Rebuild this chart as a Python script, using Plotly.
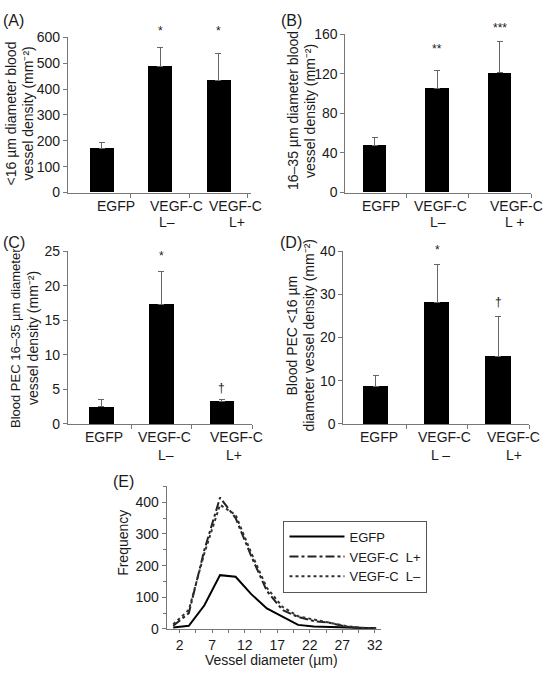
import plotly.graph_objects as go

W, H = 548, 678
FONT = "Liberation Sans, Arial, sans-serif"
TXT = "#1a1a1a"
AX = "#777777"

# ---------------- data ----------------
cat_pos = [0, 1, 2]
line1 = ["EGFP", "VEGF-C", "VEGF-C"]
line2_A = ["", "L–", "L+"]
line2_B = ["", "L–", "L +"]
line2_C = ["", "L–", "L+"]
line2_D = ["", "L –", "L+"]

vals_A = [172, 487, 433]
err_A = [23, 75, 104]
sig_A = ["", "*", "*"]
sig_y_A = [None, 625, 625]

vals_B = [48, 105, 121]
err_B = [8, 18, 32]
sig_B = ["", "**", "***"]
sig_y_B = [None, 145, 166]

vals_C = [2.5, 17.3, 3.3]
err_C = [1.05, 4.8, 0.2]
sig_C = ["", "*", "†"]
sig_y_C = [None, 24.3, 5.2]

vals_D = [8.7, 28.2, 15.7]
err_D = [2.6, 8.8, 9.2]
sig_D = ["", "*", "†"]
sig_y_D = [None, 40.3, 28.2]

diam = [1, 3.4, 5.8, 8.2, 10.6, 13, 15.4, 17.8, 20.2, 22.6, 25, 27.4, 29.8, 32.2]
freq_egfp = [5, 10, 75, 170, 165, 110, 65, 40, 13, 8, 6, 4, 3, 2]
freq_lplus = [10, 50, 250, 415, 350, 230, 120, 60, 38, 25, 20, 8, 3, 1]
freq_lminus = [15, 60, 240, 392, 360, 240, 130, 70, 40, 30, 22, 10, 4, 2]

# ---------------- helpers ----------------
def px_x(a, b):
    return [a / W, b / W]

def px_y(bottom, top):
    return [1 - bottom / H, 1 - top / H]

fig = go.Figure()

panels = [
    ("", vals_A, err_A, line2_A, sig_A, sig_y_A, px_x(68, 251), px_y(189, 30), [-0.58, 2.55], [0, 600], 100, 0.41,
     [14, 16.5, 17], [0, 6.5, 18.5], 29),
    ("2", vals_B, err_B, line2_B, sig_B, sig_y_B, px_x(346, 532), px_y(189, 27), [-0.47, 2.5], [0, 160], 40, 0.38,
     [6.5, 3, 17], [0, 1, 15], 29),
    ("3", vals_C, err_C, line2_C, sig_C, sig_y_C, px_x(68, 252.5), px_y(426, 249), [-0.55, 2.5], [0, 25], 5, 0.41,
     [2.5, 3.5, 15], [0, 5, 12.5], 31),
    ("4", vals_D, err_D, line2_D, sig_D, sig_y_D, px_x(344, 530), px_y(426, 249), [-0.53, 2.5], [0, 40], 10, 0.41,
     [3.5, 7.5, 15.5], [0, 3.5, 15.5], 31),
]

annotations = []
for suf, vals, err, l2, sig, sigy, xd, yd, xr, yr, dt, bw, sh1, sh2, dy2 in panels:
    fig.add_trace(go.Bar(
        x=cat_pos, y=vals, width=bw,
        marker=dict(color="black", line=dict(width=0)),
        error_y=dict(type="data", array=err, arrayminus=[0, 0, 0], symmetric=False,
                     color="#666666", thickness=1, width=3),
        xaxis="x" + suf, yaxis="y" + suf, showlegend=False,
    ))
    fig.layout["xaxis" + suf] = dict(
        domain=xd, range=xr, anchor="y" + suf,
        showticklabels=False, ticks="",
        showline=True, linecolor=AX, linewidth=1, showgrid=False, zeroline=False,
        minor=dict(tickmode="array", tickvals=[0.5, 1.5, 2.5], ticks="outside", ticklen=4, tickcolor=AX),
        fixedrange=True,
    )
    fig.layout["yaxis" + suf] = dict(
        domain=yd, range=yr, anchor="x" + suf,
        tickmode="linear", tick0=0, dtick=dt, ticks="outside", ticklen=4, tickcolor=AX,
        showline=True, linecolor=AX, linewidth=1, showgrid=False, zeroline=False,
        tickfont=dict(size=14, color=TXT, family=FONT), fixedrange=True,
    )
    for i in range(3):
        annotations.append(dict(
            x=cat_pos[i], y=0, xref="x" + suf, yref="y" + suf + " domain", text=line1[i],
            showarrow=False, xshift=sh1[i], yshift=-13, xanchor="center", yanchor="middle",
            font=dict(size=14, color=TXT, family=FONT),
        ))
        if l2[i]:
            annotations.append(dict(
                x=cat_pos[i], y=0, xref="x" + suf, yref="y" + suf + " domain", text=l2[i],
                showarrow=False, xshift=sh2[i], yshift=-dy2, xanchor="center", yanchor="middle",
                font=dict(size=14, color=TXT, family=FONT),
            ))
    for i, s in enumerate(sig):
        if s:
            annotations.append(dict(
                x=cat_pos[i], y=sigy[i] / yr[1], xref="x" + suf, yref="y" + suf + " domain", text=s,
                showarrow=False, font=dict(size=12, color=TXT, family=FONT),
                xanchor="center", yanchor="middle",
            ))

# ---------------- panel E ----------------
fig.add_trace(go.Scatter(x=diam, y=freq_egfp, mode="lines", name="EGFP",
                         line=dict(color="black", width=2), xaxis="x5", yaxis="y5"))
fig.add_trace(go.Scatter(x=diam, y=freq_lplus, mode="lines", name="VEGF-C\u00a0\u00a0L+",
                         line=dict(color="#222222", width=2, dash="dashdot"), xaxis="x5", yaxis="y5"))
fig.add_trace(go.Scatter(x=diam, y=freq_lminus, mode="lines", name="VEGF-C\u00a0\u00a0L–",
                         line=dict(color="#333333", width=2, dash="dot"), xaxis="x5", yaxis="y5"))

fig.layout["xaxis5"] = dict(
    domain=px_x(167, 382), range=[0, 33], anchor="y5",
    tickmode="linear", tick0=2, dtick=5, ticks="outside", ticklen=3, tickcolor=AX,
    minor=dict(tick0=2, dtick=2.5, ticks="outside", ticklen=3, tickcolor=AX),
    showline=True, linecolor=AX, linewidth=1, showgrid=False, zeroline=False,
    tickfont=dict(size=14, color=TXT, family=FONT), fixedrange=True,
)
fig.layout["yaxis5"] = dict(
    domain=px_y(636, 490), range=[0, 450], anchor="x5",
    tickmode="linear", tick0=0, dtick=100, ticks="outside", ticklen=4, tickcolor=AX,
    minor=dict(tick0=0, dtick=50, ticks="outside", ticklen=3, tickcolor=AX),
    showline=True, linecolor=AX, linewidth=1, showgrid=False, zeroline=False,
    tickfont=dict(size=14, color=TXT, family=FONT), fixedrange=True,
)

# ---------------- text annotations ----------------
def ann(text, x, y, size=14, angle=0):
    annotations.append(dict(
        text=text, x=x / W, y=1 - y / H, xref="paper", yref="paper",
        showarrow=False, textangle=angle, xanchor="center", yanchor="middle",
        font=dict(size=size, color=TXT, family=FONT),
    ))

ann("(A)", 14, 13, 16)
ann("(B)", 292, 13, 16)
ann("(C)", 14, 240, 16)
ann("(D)", 292, 240, 16)
ann("(E)", 124, 485, 16)

ann("<16 µm diameter blood", 11, 108, 14, -90)
ann("vessel density (mm⁻²)", 29, 108, 14, -90)
ann("16–35 µm diameter blood", 293, 105, 14, -90)
ann("vessel density (mm⁻²)", 310, 105, 14, -90)
ann("Blood PEC 16–35 µm diameter", 15, 338, 13, -90)
ann("vessel density (mm⁻²)", 33, 338, 14, -90)
ann("Blood PEC <16 µm", 293, 335, 14, -90)
ann("diameter vessel density (mm⁻²)", 310, 335, 14, -90)
ann("Frequency", 123, 548, 14, -90)
ann("Vessel diameter (µm)", 272, 668, 14)

fig.update_layout(
    width=W, height=H,
    margin=dict(l=0, r=0, t=0, b=0),
    paper_bgcolor="white", plot_bgcolor="white",
    font=dict(family=FONT, color=TXT, size=14),
    annotations=annotations,
    bargap=0,
    showlegend=True,
    legend=dict(
        x=284 / W, y=1 - 525 / H, xanchor="left", yanchor="top",
        bordercolor="#555555", borderwidth=1, bgcolor="white",
        font=dict(size=13, color=TXT, family=FONT),
        tracegroupgap=0, itemwidth=55,
    ),
)

fig.write_html("out.html", config={"displayModeBar": False},
               post_script="document.body.style.margin='0';")
